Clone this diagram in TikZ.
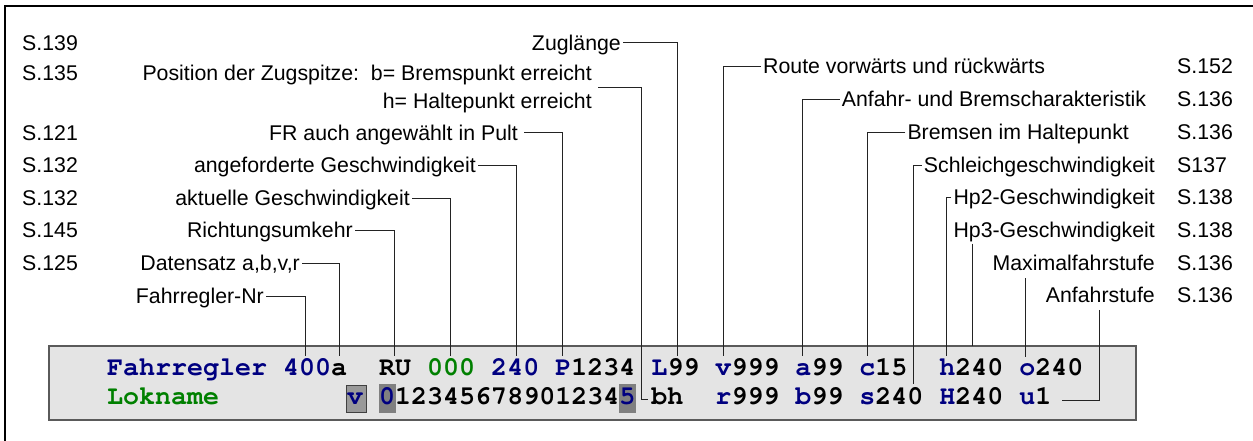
\documentclass[tikz,border=0pt]{standalone}
\usepackage{fontspec}
\setmainfont{Liberation Sans}
\newfontfamily\monof[WordSpace={1,0,0}]{texgyrecursor-bold.otf}
\usetikzlibrary{calc}
\definecolor{navy}{RGB}{0,0,128}
\definecolor{grn}{RGB}{0,128,0}
\definecolor{boxfill}{RGB}{228,228,228}
\definecolor{boxline}{RGB}{90,90,90}
\definecolor{hl}{RGB}{128,128,128}
\definecolor{hlv}{RGB}{153,153,153}
\definecolor{lineclr}{RGB}{35,35,35}
\tikzset{
  lbl/.style={font=\fontsize{21.3}{25}\selectfont, inner xsep=2pt, inner ysep=0pt, text height=14.7pt, text depth=0pt},
  pg/.style={lbl, anchor=west},
  conn/.style={draw=lineclr, line width=0.9pt},
  mono/.style={font=\monof\fontsize{26.67}{30}\selectfont, inner sep=0pt, anchor=base west},
}
\begin{document}
\begin{tikzpicture}[x=1pt,y=-1pt]
\useasboundingbox (0,0) rectangle (1253,441);
% frame
\draw[line width=2pt] (5,441) -- (5,6) -- (1253,6);
% display box
\draw[fill=boxfill, draw=boxline, line width=1.3pt] (49,346) rectangle (1136,420);
\draw[fill=hlv, draw=black!75, line width=0.8pt] (346,385) rectangle (366,412.7);
\fill[hl] (379,384) rectangle (395.7,412.7);
\fill[hl] (619,384) rectangle (636,412.7);
\node[mono] (row1) at (107,375.7) {{\color{navy}Fahrregler~400}a~~RU~{\color{grn}000}~{\color{navy}240}~{\color{navy}P}1234~{\color{navy}L}99~{\color{navy}v}999~{\color{navy}a}99~{\color{navy}c}15~~{\color{navy}h}240~{\color{navy}o}240};
\node[mono] (row2) at (107,404.3) {{\color{grn}Lokname}~~~~~~~~{\color{navy}v}~{\color{navy}0}12345678901234{\color{navy}5}~bh~~{\color{navy}r}999~{\color{navy}b}99~{\color{navy}s}240~{\color{navy}H}240~{\color{navy}u}1};
% page references
\node[pg] (s139) at (20,42.7) {S.139};
\node[pg] (s135) at (20,73.5) {S.135};
\node[pg] (s121) at (20,132.7) {S.121};
\node[pg] (s132a) at (20,165) {S.132};
\node[pg] (s132b) at (20,198.3) {S.132};
\node[pg] (s145) at (20,230) {S.145};
\node[pg] (s125) at (20,263.3) {S.125};
\node[pg] (s152) at (1175,66) {S.152};
\node[pg] (s136a) at (1175,99.5) {S.136};
\node[pg] (s136b) at (1175,132) {S.136};
\node[pg] (s137) at (1175,165) {S137};
\node[pg] (s138a) at (1175,197.3) {S.138};
\node[pg] (s138b) at (1175,230) {S.138};
\node[pg] (s136c) at (1175,263) {S.136};
\node[pg] (s136d) at (1175,295.5) {S.136};
% labels left
\node[lbl,anchor=east] (zug) at (623,42.7) {Zuglänge};
\node[lbl,anchor=east] (pos1) at (594,73.5) {Position der Zugspitze:\ \ b= Bremspunkt erreicht};
\node[lbl,anchor=east] (pos2) at (594,101.2) {h= Haltepunkt erreicht};
\node[lbl,anchor=east] (fr) at (520,132.7) {FR auch angewählt in Pult};
\node[lbl,anchor=east] (ang) at (478,165) {angeforderte Geschwindigkeit};
\node[lbl,anchor=east] (akt) at (412,198.3) {aktuelle Geschwindigkeit};
\node[lbl,anchor=east] (ric) at (355,230) {Richtungsumkehr};
\node[lbl,anchor=east] (dat) at (302,263.3) {Datensatz a,b,v,r};
\node[lbl,anchor=east] (frn) at (266,296) {Fahrregler-Nr};
% labels right
\node[lbl,anchor=west] (rou) at (761,66) {Route vorwärts und rückwärts};
\node[lbl,anchor=west] (anf) at (839.7,99.3) {Anfahr- und Bremscharakteristik};
\node[lbl,anchor=west] (bre) at (905.3,132) {Bremsen im Haltepunkt};
\node[lbl,anchor=east] (sch) at (1157,165) {Schleichgeschwindigkeit};
\node[lbl,anchor=east] (hp2) at (1157,197.3) {Hp2-Geschwindigkeit};
\node[lbl,anchor=east] (hp3) at (1157,230) {Hp3-Geschwindigkeit};
\node[lbl,anchor=east] (max) at (1157,262.7) {Maximalfahrstufe};
\node[lbl,anchor=east] (ast) at (1157,295.3) {Anfahrstufe};
% connector targets
\coordinate (cZug) at (677.3,356);
\coordinate (posc) at ($(pos1.east)!.5!(pos2.east)+(4,0)$);
\coordinate (cBh1) at (641.7,399.3);
\coordinate (cBh2) at (648.3,399.3);
\coordinate (cP) at (562.3,356);
\coordinate (c240) at (516,356);
\coordinate (c000) at (450.7,356);
\coordinate (cRU) at (394.3,356);
\coordinate (cA) at (339.3,356);
\coordinate (cNr) at (305.7,356);
\coordinate (cV) at (723.3,356);
\coordinate (cA2) at (802.7,356);
\coordinate (cC) at (867.3,356);
\coordinate (cS) at (913.3,384);
\coordinate (cH) at (946,356);
\coordinate (cH3) at (972.7,346);
\coordinate (cO) at (1025.7,356.7);
\coordinate (cU1) at (1099.3,400);
\coordinate (cU2) at (1061.7,400);
% connectors
\draw[conn] (zug.east) -| (cZug);
\draw[conn] (posc) -| (cBh1) -- (cBh2);
\draw[conn] ([xshift=4pt]fr.east) -| (cP);
\draw[conn] (ang.east) -| (c240);
\draw[conn] (akt.east) -| (c000);
\draw[conn] (ric.east) -| (cRU);
\draw[conn] (dat.east) -| (cA);
\draw[conn] (frn.east) -| (cNr);
\draw[conn] (rou.west) -| (cV);
\draw[conn] (anf.west) -| (cA2);
\draw[conn] (bre.west) -| (cC);
\draw[conn] (sch.west) -| (cS);
\draw[conn] (hp2.west) -| (cH);
\draw[conn] ($(hp3.south west -| cH3)+(0,6)$) -- (cH3);
\draw[conn] ($(max.south west -| cO)+(0,8)$) -- (cO);
\draw[conn] ($(ast.south west -| cU1)+(0,7)$) -- (cU1) -- (cU2);
\end{tikzpicture}
\end{document}
